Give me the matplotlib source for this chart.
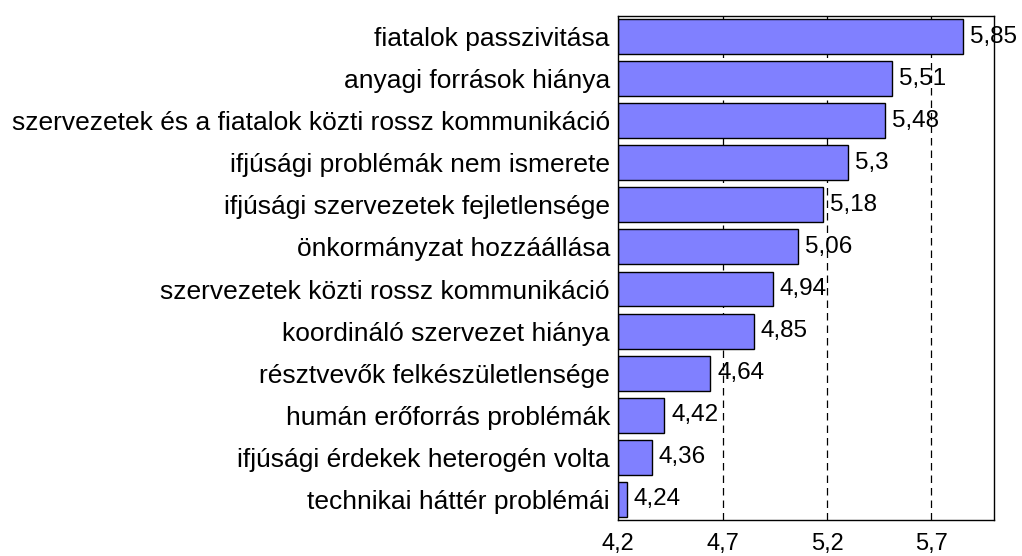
import matplotlib.pyplot as plt
from matplotlib.ticker import FuncFormatter

plt.rcParams['font.family'] = ['Liberation Sans', 'DejaVu Sans']

# kategóriák és átlagértékek (felülről lefelé)
categories = [
    "fiatalok passzivitása",
    "anyagi források hiánya",
    "szervezetek és a fiatalok közti rossz kommunikáció",
    "ifjúsági problémák nem ismerete",
    "ifjúsági szervezetek fejletlensége",
    "önkormányzat hozzáállása",
    "szervezetek közti rossz kommunikáció",
    "koordináló szervezet hiánya",
    "résztvevők felkészületlensége",
    "humán erőforrás problémák",
    "ifjúsági érdekek heterogén volta",
    "technikai háttér problémái",
]
values = [5.85, 5.51, 5.48, 5.3, 5.18, 5.06, 4.94, 4.85, 4.64, 4.42, 4.36, 4.24]
value_labels = ["5,85", "5,51", "5,48", "5,3", "5,18", "5,06", "4,94", "4,85",
                "4,64", "4,42", "4,36", "4,24"]
xticks = [4.2, 4.7, 5.2, 5.7]

base = 4.2

fig = plt.figure(figsize=(10.22, 5.56), dpi=100)
ax = fig.add_axes([0.605, 0.064, 0.3676, 0.908])

ypos = list(range(len(categories)))
widths = [v - base for v in values]
ax.barh(ypos, widths, left=base, height=0.83, color="#8080FF",
        edgecolor="black", linewidth=1.0, zorder=2)

for y, v, lab in zip(ypos, values, value_labels):
    ax.annotate(lab, (v, y), xytext=(5, 0), textcoords="offset points",
                va="center", ha="left", fontsize=17.5, zorder=3)

ax.set_xlim(4.2, 6.0)
ax.set_ylim(len(categories) - 0.5, -0.5)
ax.set_yticks(ypos)
ax.set_yticklabels(categories, fontsize=19)
ax.set_xticks(xticks)
ax.xaxis.set_major_formatter(FuncFormatter(lambda x, p: f"{x:.1f}".replace(".", ",")))
ax.tick_params(axis="x", length=0, labelsize=17, pad=9)
ax.tick_params(axis="y", length=0, pad=6)

for t in xticks[1:]:
    ax.axvline(t, color="black", linestyle=(0, (6, 4)), linewidth=0.9, zorder=1)

for s in ax.spines.values():
    s.set_linewidth(1.0)

fig.savefig("out.png", dpi=100)
